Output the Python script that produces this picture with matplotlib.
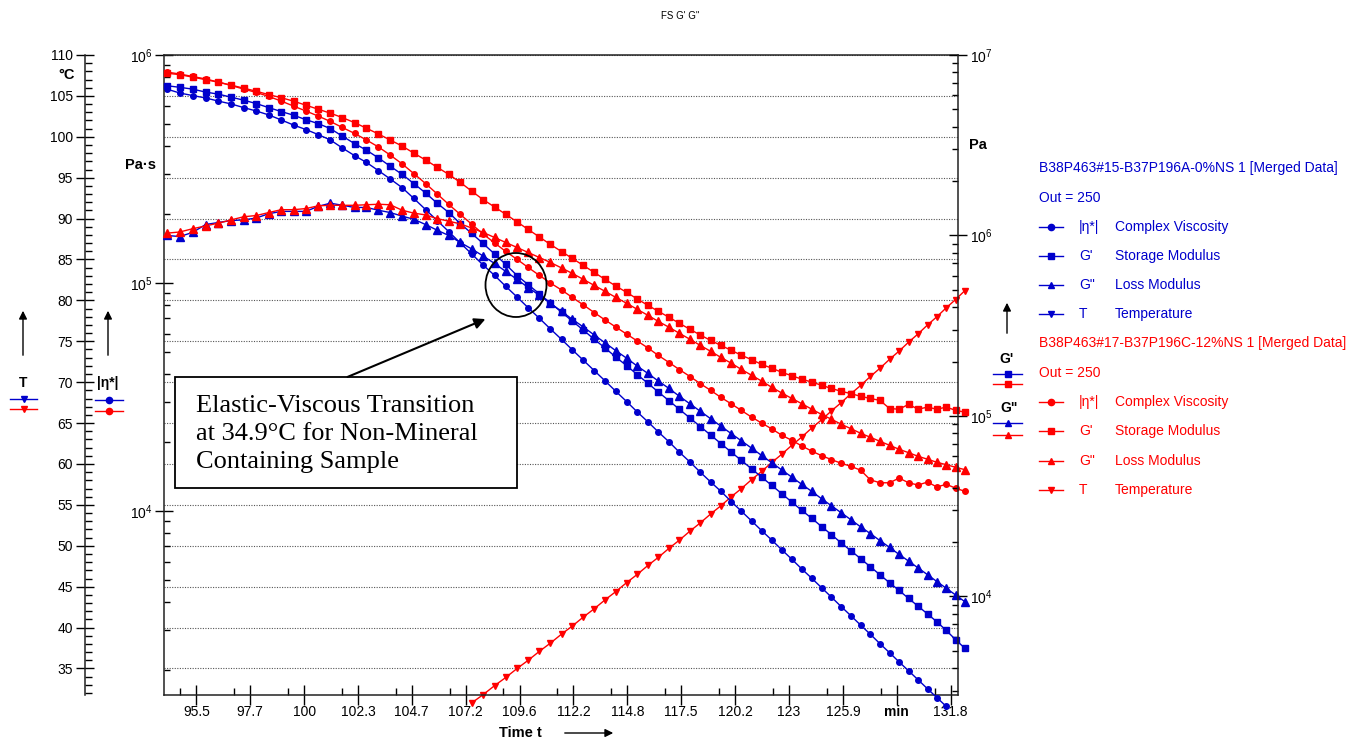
import numpy as np
import matplotlib.pyplot as plt
from matplotlib.lines import Line2D
from matplotlib.patches import Ellipse, Rectangle, FancyArrowPatch
from matplotlib.ticker import NullFormatter, LogLocator

plt.rcParams['font.family'] = ['Liberation Sans', 'DejaVu Sans']

W, H = 1356, 740
BLUE = '#0000CC'
RED = '#FF0000'

# measuring time of every point (min)
times = [94.3, 94.83, 95.35, 95.88, 96.4, 96.93, 97.45, 97.98, 98.5, 99.03,
         99.55, 100.08, 100.6, 101.13, 101.65, 102.18, 102.7, 103.23, 103.75, 104.28,
         104.8, 105.33, 105.85, 106.38, 106.9, 107.43, 107.95, 108.48, 109.0, 109.53,
         110.05, 110.58, 111.1, 111.63, 112.15, 112.68, 113.2, 113.73, 114.25, 114.78,
         115.3, 115.83, 116.35, 116.88, 117.4, 117.93, 118.45, 118.98, 119.5, 120.03,
         120.55, 121.08, 121.6, 122.13, 122.65, 123.18, 123.7, 124.23, 124.75, 125.28,
         125.8, 126.33, 126.85, 127.38, 127.9, 128.43, 128.95, 129.48, 130.0, 130.53,
         131.05, 131.58, 132.1, 132.63]

# sample 1: B38P463#15 (0 % NS) - blue
eta_blue = [7.09e5, 6.81e5, 6.64e5, 6.48e5, 6.28e5, 6.10e5, 5.88e5, 5.68e5, 5.46e5, 5.19e5,
            4.93e5, 4.71e5, 4.48e5, 4.24e5, 3.91e5, 3.62e5, 3.38e5, 3.11e5, 2.86e5, 2.62e5,
            2.35e5, 2.10e5, 1.88e5, 1.68e5, 1.50e5, 1.34e5, 1.20e5, 1.08e5, 9.67e4, 8.68e4,
            7.79e4, 7.00e4, 6.29e4, 5.66e4, 5.09e4, 4.58e4, 4.13e4, 3.72e4, 3.35e4, 3.02e4,
            2.72e4, 2.46e4, 2.22e4, 2.01e4, 1.81e4, 1.64e4, 1.48e4, 1.34e4, 1.22e4, 1.10e4,
            9.98e3, 9.04e3, 8.20e3, 7.45e3, 6.76e3, 6.14e3, 5.57e3, 5.07e3, 4.61e3, 4.19e3,
            3.81e3, 3.47e3, 3.16e3, 2.88e3, 2.62e3, 2.39e3, 2.18e3, 1.99e3, 1.82e3, 1.66e3,
            1.52e3, 1.39e3]
gp_blue = [6.76e6, 6.62e6, 6.47e6, 6.23e6, 6.07e6, 5.84e6, 5.62e6, 5.38e6, 5.11e6, 4.86e6,
           4.64e6, 4.38e6, 4.17e6, 3.91e6, 3.55e6, 3.23e6, 2.97e6, 2.69e6, 2.42e6, 2.18e6,
           1.94e6, 1.72e6, 1.51e6, 1.34e6, 1.165e6, 1.026e6, 9.03e5, 7.90e5, 6.91e5, 6.00e5,
           5.34e5, 4.75e5, 4.23e5, 3.76e5, 3.35e5, 2.99e5, 2.66e5, 2.38e5, 2.12e5, 1.90e5,
           1.695e5, 1.517e5, 1.356e5, 1.214e5, 1.088e5, 9.74e4, 8.74e4, 7.83e4, 7.03e4, 6.30e4,
           5.67e4, 5.09e4, 4.58e4, 4.12e4, 3.71e4, 3.33e4, 3.00e4, 2.71e4, 2.44e4, 2.20e4,
           1.98e4, 1.79e4, 1.62e4, 1.46e4, 1.32e4, 1.19e4, 1.08e4, 9.75e3, 8.84e3, 8.00e3,
           7.24e3, 6.48e3, 5.77e3, 5.16e3]
gpp_blue = [1.00e6, 9.87e5, 1.04e6, 1.15e6, 1.18e6, 1.21e6, 1.22e6, 1.25e6, 1.32e6, 1.36e6,
            1.36e6, 1.36e6, 1.45e6, 1.51e6, 1.47e6, 1.43e6, 1.43e6, 1.38e6, 1.34e6, 1.28e6,
            1.23e6, 1.15e6, 1.07e6, 1.00e6, 9.15e5, 8.42e5, 7.70e5, 7.00e5, 6.32e5, 5.71e5,
            5.15e5, 4.66e5, 4.21e5, 3.80e5, 3.43e5, 3.11e5, 2.81e5, 2.54e5, 2.30e5, 2.09e5,
            1.89e5, 1.72e5, 1.56e5, 1.42e5, 1.285e5, 1.167e5, 1.062e5, 9.65e4, 8.78e4, 7.98e4,
            7.28e4, 6.63e4, 6.04e4, 5.50e4, 5.02e4, 4.58e4, 4.18e4, 3.82e4, 3.48e4, 3.18e4,
            2.91e4, 2.66e4, 2.43e4, 2.23e4, 2.04e4, 1.87e4, 1.71e4, 1.57e4, 1.44e4, 1.32e4,
            1.21e4, 1.11e4, 1.02e4, 9.35e3]

# sample 2: B38P463#17 (12 % NS) - red
eta_red = [8.42e5, 8.25e5, 8.05e5, 7.85e5, 7.61e5, 7.35e5, 7.09e5, 6.85e5, 6.58e5, 6.28e5,
           5.97e5, 5.68e5, 5.40e5, 5.11e5, 4.81e5, 4.53e5, 4.24e5, 3.95e5, 3.64e5, 3.33e5,
           3.02e5, 2.73e5, 2.46e5, 2.21e5, 2.00e5, 1.81e5, 1.64e5, 1.50e5, 1.375e5, 1.27e5,
           1.17e5, 1.08e5, 1.00e5, 9.32e4, 8.64e4, 8.01e4, 7.42e4, 6.88e4, 6.41e4, 5.97e4,
           5.57e4, 5.19e4, 4.81e4, 4.48e4, 4.17e4, 3.89e4, 3.62e4, 3.38e4, 3.15e4, 2.95e4,
           2.76e4, 2.58e4, 2.43e4, 2.29e4, 2.15e4, 2.04e4, 1.93e4, 1.83e4, 1.75e4, 1.68e4,
           1.62e4, 1.57e4, 1.51e4, 1.37e4, 1.33e4, 1.33e4, 1.395e4, 1.33e4, 1.30e4, 1.34e4,
           1.275e4, 1.31e4, 1.26e4, 1.22e4]
gp_red = [7.93e6, 7.78e6, 7.54e6, 7.30e6, 7.07e6, 6.81e6, 6.55e6, 6.30e6, 6.03e6, 5.80e6,
          5.55e6, 5.27e6, 5.01e6, 4.76e6, 4.50e6, 4.22e6, 3.93e6, 3.65e6, 3.38e6, 3.13e6,
          2.86e6, 2.62e6, 2.39e6, 2.18e6, 1.97e6, 1.76e6, 1.58e6, 1.44e6, 1.31e6, 1.19e6,
          1.08e6, 9.81e5, 8.92e5, 8.15e5, 7.46e5, 6.82e5, 6.24e5, 5.71e5, 5.25e5, 4.84e5,
          4.45e5, 4.10e5, 3.80e5, 3.52e5, 3.26e5, 3.02e5, 2.81e5, 2.62e5, 2.46e5, 2.31e5,
          2.17e5, 2.05e5, 1.93e5, 1.84e5, 1.745e5, 1.67e5, 1.60e5, 1.54e5, 1.48e5, 1.42e5,
          1.37e5, 1.33e5, 1.285e5, 1.25e5, 1.22e5, 1.10e5, 1.09e5, 1.16e5, 1.09e5, 1.12e5,
          1.09e5, 1.12e5, 1.075e5, 1.05e5]
gpp_red = [1.03e6, 1.046e6, 1.09e6, 1.13e6, 1.17e6, 1.22e6, 1.27e6, 1.29e6, 1.34e6, 1.39e6,
           1.39e6, 1.41e6, 1.46e6, 1.47e6, 1.47e6, 1.47e6, 1.48e6, 1.49e6, 1.48e6, 1.38e6,
           1.33e6, 1.30e6, 1.24e6, 1.20e6, 1.16e6, 1.10e6, 1.04e6, 9.75e5, 9.15e5, 8.58e5,
           8.05e5, 7.55e5, 7.09e5, 6.61e5, 6.16e5, 5.71e5, 5.29e5, 4.90e5, 4.54e5, 4.21e5,
           3.90e5, 3.61e5, 3.34e5, 3.10e5, 2.87e5, 2.66e5, 2.46e5, 2.28e5, 2.11e5, 1.96e5,
           1.81e5, 1.68e5, 1.56e5, 1.44e5, 1.34e5, 1.25e5, 1.17e5, 1.09e5, 1.02e5, 9.59e4,
           9.00e4, 8.50e4, 8.02e4, 7.62e4, 7.24e4, 6.88e4, 6.54e4, 6.26e4, 5.98e4, 5.76e4,
           5.54e4, 5.37e4, 5.20e4, 5.04e4]
# temperature, visible from point 25 on
temp_first = 25
temp_red = [30.8, 31.8, 32.9, 33.9, 35.0, 36.0, 37.1, 38.1, 39.2, 40.2,
            41.3, 42.3, 43.4, 44.4, 45.5, 46.5, 47.6, 48.6, 49.7, 50.7,
            51.8, 52.8, 53.9, 54.9, 56.0, 57.0, 58.1, 59.1, 60.2, 61.2,
            62.3, 63.3, 64.4, 65.4, 66.5, 67.5, 68.6, 69.6, 70.7, 71.7,
            72.8, 73.8, 74.9, 75.9, 77.0, 78.0, 79.1, 80.1, 81.2]

xtick_vals = [95.5, 97.72, 100, 102.33, 104.71, 107.15, 109.65, 112.2, 114.82, 117.49,
              120.23, 123.03, 125.89, 128.82, 131.83]
xtick_labels = ['95.5', '97.7', '100', '102.3', '104.7', '107.2', '109.6', '112.2', '114.8',
                '117.5', '120.2', '123', '125.9', 'min', '131.8']

legend_syms = ['|η*|', "G'", 'G"', 'T']
legend_names = ['Complex Viscosity', 'Storage Modulus', 'Loss Modulus', 'Temperature']
legend_markers = ['o', 's', '^', 'v']
sample_names = ['B38P463#15-B37P196A-0%NS 1 [Merged Data]',
                'B38P463#17-B37P196C-12%NS 1 [Merged Data]']


def fx(px):
    return px / W


def fy(py):
    return 1 - py / H


fig = plt.figure(figsize=(W / 100, H / 100), dpi=100)

# plot box in pixels
left, right, top, bottom = 164, 958, 55, 695
ax_t = fig.add_axes([fx(left), fy(bottom), (right - left) / W, (bottom - top) / H])
ax_eta = ax_t.twinx()
ax_pa = ax_t.twinx()

ax_t.set_xscale('log')
ax_t.set_xlim(94.19, 132.24)
ax_t.set_ylim(31.76, 110)
ax_eta.set_yscale('log')
ax_eta.set_ylim(1560, 1e6)
ax_pa.set_yscale('log')
ax_pa.set_ylim(2845, 1e7)

# spines
for sp in ['top', 'right']:
    ax_t.spines[sp].set_visible(False)
ax_t.spines['left'].set_position(('outward', 79 * 0.72))
for sp in ['right', 'bottom']:
    ax_eta.spines[sp].set_visible(False)
for sp in ['left', 'top', 'bottom']:
    ax_pa.spines[sp].set_visible(False)
for a in [ax_t, ax_eta, ax_pa]:
    for sp in a.spines.values():
        sp.set_linewidth(1.1)
        sp.set_color('#222222')

# x axis (log time)
ax_t.set_xticks(xtick_vals, xtick_labels)
ax_t.set_xticks([v * 10 ** -0.003 for v in xtick_vals], minor=True)
ax_t.xaxis.set_minor_formatter(NullFormatter())
for lbl in ax_t.get_xticklabels():
    if lbl.get_text() == 'min':
        lbl.set_fontweight('bold')
ax_t.tick_params(axis='x', which='major', direction='inout', length=14, width=1, labelsize=10, pad=0)
ax_t.tick_params(axis='x', which='minor', direction='in', length=5, width=1)

# temperature axis + grid
ax_t.set_yticks(range(35, 111, 5))
ax_t.set_yticks(range(32, 111), minor=True)
ax_t.tick_params(axis='y', which='major', direction='inout', length=13, width=1, labelsize=10, pad=2)
ax_t.tick_params(axis='y', which='minor', direction='in', length=5, width=1)
ax_t.grid(True, axis='y', which='major', color='#555555', ls=(0, (1, 1.3)), lw=0.8)

# viscosity axis
ax_eta.yaxis.tick_left()
ax_eta.yaxis.set_minor_locator(LogLocator(subs=np.arange(2, 10)))
ax_eta.yaxis.set_minor_formatter(NullFormatter())
ax_eta.tick_params(axis='y', which='major', direction='inout', length=13, width=1, labelsize=10, pad=2)
ax_eta.tick_params(axis='y', which='minor', direction='in', length=4, width=1)

# modulus axis
ax_pa.yaxis.set_minor_locator(LogLocator(subs=np.arange(2, 10)))
ax_pa.yaxis.set_minor_formatter(NullFormatter())
ax_pa.tick_params(axis='y', which='major', direction='inout', length=13, width=1, labelsize=10, pad=2)
ax_pa.tick_params(axis='y', which='minor', direction='in', length=4, width=1)

# curves
ax_t.plot(times[temp_first:], temp_red, color=RED, marker='v', ms=5, lw=1, clip_on=False)
ax_eta.plot(times[:len(eta_blue)], eta_blue, color=BLUE, marker='o', ms=4, lw=1, clip_on=False)
ax_eta.plot(times, eta_red, color=RED, marker='o', ms=4, lw=1, clip_on=False)
ax_pa.plot(times, gp_blue, color=BLUE, marker='s', ms=5, lw=1, clip_on=False)
ax_pa.plot(times, gpp_blue, color=BLUE, marker='^', ms=5.5, lw=1, clip_on=False)
ax_pa.plot(times, gp_red, color=RED, marker='s', ms=5, lw=1, clip_on=False)
ax_pa.plot(times, gpp_red, color=RED, marker='^', ms=5.5, lw=1, clip_on=False)

# title and unit labels
fig.text(fx(680), fy(16), 'FS G\' G"', fontsize=7, ha='center', va='center')
fig.text(fx(67), fy(75), '°C', fontsize=10.5, fontweight='bold', ha='center', va='center')
fig.text(fx(140), fy(165), 'Pa·s', fontsize=10.5, fontweight='bold', ha='center', va='center')
fig.text(fx(978), fy(145), 'Pa', fontsize=10.5, fontweight='bold', ha='center', va='center')
fig.text(fx(520), fy(733), 'Time t', fontsize=10.5, fontweight='bold', ha='center', va='center')
fig.add_artist(FancyArrowPatch((fx(562), fy(733)), (fx(616), fy(733)), transform=fig.transFigure,
                               arrowstyle='-|>', mutation_scale=12, color='black', lw=1))


def stub(x0, x1, y, color, marker, ms):
    fig.add_artist(Line2D([fx(x0), fx(x1)], [fy(y), fy(y)], color=color, lw=1))
    fig.add_artist(Line2D([fx((x0 + x1) / 2)], [fy(y)], color=color, marker=marker, ms=ms, lw=0))


def up_arrow(x, y0, y1):
    fig.add_artist(FancyArrowPatch((fx(x), fy(y0)), (fx(x), fy(y1)), transform=fig.transFigure,
                                   arrowstyle='-|>', mutation_scale=12, color='black', lw=1))


# axis keys beside the axes
up_arrow(23, 358, 308)
fig.text(fx(23), fy(383), 'T', fontsize=10, fontweight='bold', ha='center', va='center')
stub(10, 37, 399, BLUE, 'v', 5)
stub(10, 37, 409.5, RED, 'v', 5)

up_arrow(108, 358, 308)
fig.text(fx(108), fy(383), '|η*|', fontsize=10, fontweight='bold', ha='center', va='center')
stub(95, 123, 400, BLUE, 'o', 4.5)
stub(95, 123, 410.5, RED, 'o', 4.5)

up_arrow(1007, 336, 300)
fig.text(fx(1007), fy(359), "G'", fontsize=10, fontweight='bold', ha='center', va='center')
stub(993, 1022, 374, BLUE, 's', 5)
stub(993, 1022, 384, RED, 's', 5)
fig.text(fx(1009), fy(408), 'G"', fontsize=10, fontweight='bold', ha='center', va='center')
stub(993, 1022, 423, BLUE, '^', 5)
stub(993, 1022, 435, RED, '^', 5)

# legend on the right
for color, name, y0, ys in [(BLUE, sample_names[0], 168, [226.7, 256, 285.3, 314.3]),
                            (RED, sample_names[1], 343.3, [402.3, 431, 460.7, 490])]:
    fig.text(fx(1039), fy(y0), name, fontsize=10, color=color, va='center')
    fig.text(fx(1039), fy(y0 + 29.5), 'Out = 250', fontsize=10, color=color, va='center')
    for y, sym, nm, mk in zip(ys, legend_syms, legend_names, legend_markers):
        stub(1039, 1063, y, color, mk, 4.5)
        fig.text(fx(1079), fy(y), sym, fontsize=10, color=color, va='center')
        fig.text(fx(1115), fy(y), nm, fontsize=10, color=color, va='center')

# annotation of the G'/G" crossover
fig.add_artist(Rectangle((fx(175), fy(488)), (517 - 175) / W, (488 - 377) / H, transform=fig.transFigure,
                         facecolor='white', edgecolor='black', lw=1.3))
fig.text(fx(196), fy(434), 'Elastic-Viscous Transition\nat 34.9°C for Non-Mineral\nContaining Sample',
         family=['Liberation Serif', 'DejaVu Serif'], fontsize=19, va='center', ha='left', linespacing=1.36)
fig.add_artist(FancyArrowPatch((fx(345), fy(378)), (fx(488), fy(318)), transform=fig.transFigure,
                               arrowstyle='-|>', mutation_scale=16, color='black', lw=1.5))
fig.add_artist(Ellipse((fx(516), fy(285)), 61 / W, 64 / H, transform=fig.transFigure,
                       fill=False, edgecolor='black', lw=1.3))

fig.savefig('out.png', dpi=100)
